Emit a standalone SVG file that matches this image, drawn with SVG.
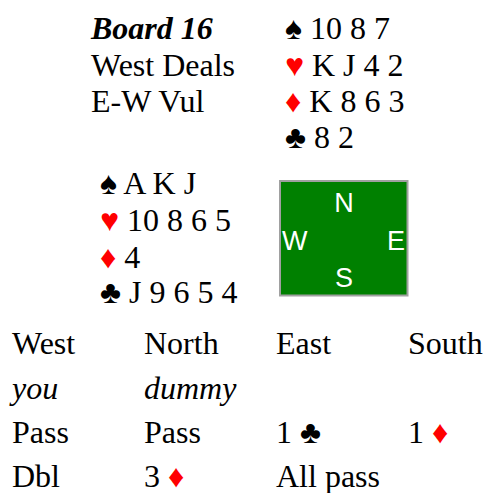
<svg xmlns="http://www.w3.org/2000/svg" width="484" height="493" viewBox="0 0 484 493">
<style>
text{font-family:"Liberation Serif","Times New Roman",serif;font-size:32px;fill:#000}
.b{font-weight:bold;font-style:italic}
.i{font-style:italic}
.r{fill:#ff0000}
.c{font-family:"Liberation Sans",Arial,sans-serif;font-size:27px;fill:#fff}
</style>
<rect width="484" height="493" fill="#fff"/>
<g id="info">
<text x="91" y="39" class="b">Board 16</text>
<text x="91" y="76">West Deals</text>
<text x="91" y="112">E-W Vul</text>
</g>
<g id="north">
<text x="285" y="39">♠ 10 8 7</text>
<text x="285" y="76"><tspan class="r">♥</tspan> K J 4 2</text>
<text x="285" y="112"><tspan class="r">♦</tspan> K 8 6 3</text>
<text x="285" y="148">♣ 8 2</text>
</g>
<g id="west">
<text x="100" y="194">♠ A K J</text>
<text x="100" y="231"><tspan class="r">♥</tspan> 10 8 6 5</text>
<text x="100" y="268"><tspan class="r">♦</tspan> 4</text>
<text x="100" y="303">♣ J 9 6 5 4</text>
</g>
<g id="table">
<rect x="280" y="181" width="127.5" height="114.5" fill="#008000" stroke="#a0a0a0" stroke-width="2"/>
<text x="344" y="212" class="c" text-anchor="middle">N</text>
<text x="282" y="250" class="c">W</text>
<text x="387" y="250" class="c">E</text>
<text x="344" y="287" class="c" text-anchor="middle">S</text>
</g>
<g id="auction">
<text x="12" y="354">West</text>
<text x="144" y="354">North</text>
<text x="276" y="354">East</text>
<text x="408" y="354">South</text>
<text x="12" y="399" class="i">you</text>
<text x="144" y="399" class="i">dummy</text>
<text x="12" y="443">Pass</text>
<text x="144" y="443">Pass</text>
<text x="276" y="443">1 ♣</text>
<text x="408" y="443">1 <tspan class="r">♦</tspan></text>
<text x="12" y="487">Dbl</text>
<text x="144" y="487">3 <tspan class="r">♦</tspan></text>
<text x="276" y="487">All pass</text>
</g>
</svg>
